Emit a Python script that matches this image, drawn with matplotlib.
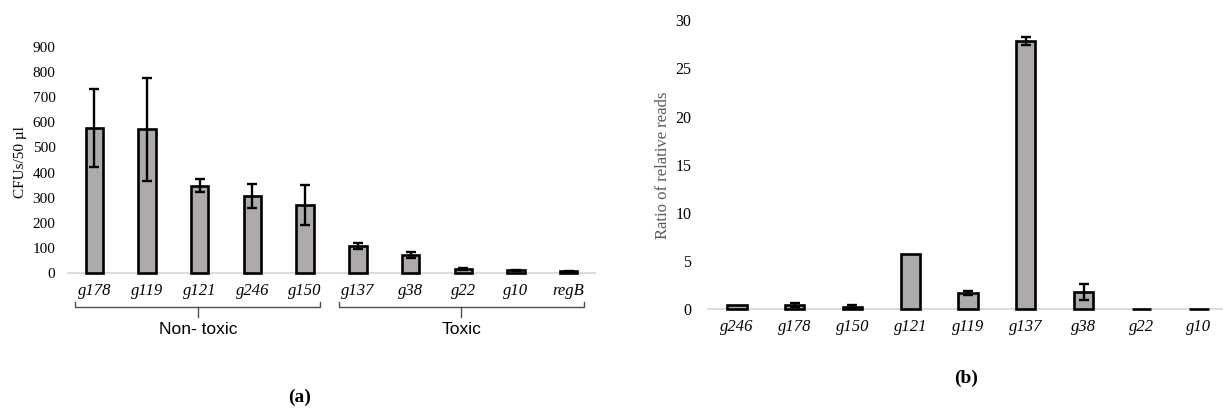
# plot.py
# Two bar panels: (a) CFUs per gene, (b) ratio of relative reads

import matplotlib
matplotlib.use("Agg")
import matplotlib.pyplot as plt

# ----------------------------
# Data
# ----------------------------
genes_a = ["g178", "g119", "g121", "g246", "g150", "g137", "g38", "g22", "g10", "regB"]
cfu = [578, 572, 348, 305, 272, 108, 72, 17, 10, 7]
cfu_err = [156, 205, 25, 48, 80, 13, 12, 4, 3, 2]
groups = [("Non- toxic", 0, 4), ("Toxic", 5, 9)]

genes_b = ["g246", "g178", "g150", "g121", "g119", "g137", "g38", "g22", "g10"]
ratio = [0.5, 0.5, 0.3, 5.7, 1.7, 27.85, 1.8, 0.08, 0.1]
ratio_err = [0.0, 0.2, 0.15, 0.0, 0.2, 0.4, 0.8, 0.0, 0.0]

# ----------------------------
# Style
# ----------------------------
BAR_FILL = "#aeaaaa"
AXIS_GREY = "#d9d9d9"
SERIF = "Liberation Serif"
SANS = "Liberation Sans"


def style_axes(ax, tick_size):
    for side in ["top", "right", "left"]:
        ax.spines[side].set_visible(False)
    ax.spines["bottom"].set_color(AXIS_GREY)
    ax.spines["bottom"].set_linewidth(1.3)
    ax.spines["bottom"].set_zorder(1)
    ax.tick_params(axis="both", length=0)
    ax.tick_params(axis="y", labelsize=tick_size, pad=9)
    ax.tick_params(axis="x", pad=7)
    for lab in ax.get_yticklabels():
        lab.set_fontfamily(SERIF)
    for lab in ax.get_xticklabels():
        lab.set_fontfamily(SERIF)
        lab.set_fontstyle("italic")
        lab.set_fontsize(12)


def draw_bars(ax, labels, vals, errs):
    x = list(range(len(labels)))
    ax.bar(x, vals, width=0.33, color=BAR_FILL, edgecolor="black", linewidth=1.9,
           zorder=3, clip_on=False)
    # only bars that actually carry an error get a whisker
    keep = [i for i, e in enumerate(errs) if e > 0]
    ax.errorbar([x[i] for i in keep], [vals[i] for i in keep], yerr=[errs[i] for i in keep],
                fmt="none", ecolor="black", elinewidth=1.7,
                capsize=3.5, capthick=1.7, zorder=4)
    ax.set_xticks(x)
    ax.set_xticklabels(labels)
    ax.set_xlim(-0.5, len(labels) - 0.5)


fig = plt.figure(figsize=(12.23, 4.09), dpi=100)

# ---- panel (a)
ax_a = fig.add_axes([0.0556, 0.3325, 0.4309, 0.5525])
draw_bars(ax_a, genes_a, cfu, cfu_err)
ax_a.set_ylim(0, 900)
ax_a.set_yticks(range(0, 901, 100))
style_axes(ax_a, 11)
fig.text(0.0164, 0.604, "CFUs/50 µl", rotation=90, ha="center", va="center",
         fontsize=11, family=SERIF)

# braces under the category labels
tr = ax_a.get_xaxis_transform()
for name, i0, i1 in groups:
    left, right = i0 - 0.36, i1 + 0.29
    mid = (left + right) / 2
    ax_a.plot([left, left, right, right], [-0.128, -0.150, -0.150, -0.128],
              color="#505050", lw=1.0, transform=tr, clip_on=False)
    ax_a.plot([mid, mid], [-0.150, -0.195], color="#505050", lw=1.0,
              transform=tr, clip_on=False)
    ax_a.text(mid, -0.252, name, transform=tr, ha="center", va="center",
              fontsize=12.5, family=SANS)

fig.text(0.245, 0.029, "(a)", ha="center", va="center", fontsize=14,
         fontweight="bold", family=SERIF)

# ---- panel (b)
ax_b = fig.add_axes([0.579, 0.2433, 0.425, 0.7077])
draw_bars(ax_b, genes_b, ratio, ratio_err)
ax_b.set_ylim(0, 30)
ax_b.set_yticks(range(0, 31, 5))
style_axes(ax_b, 11.5)
ax_b.tick_params(axis="y", pad=12)
fig.text(0.542, 0.597, "Ratio of relative reads", rotation=90, ha="center", va="center",
         fontsize=12, family=SERIF, color="#595959")

fig.text(0.79, 0.076, "(b)", ha="center", va="center", fontsize=14,
         fontweight="bold", family=SERIF)

fig.savefig("out.png", dpi=100)
